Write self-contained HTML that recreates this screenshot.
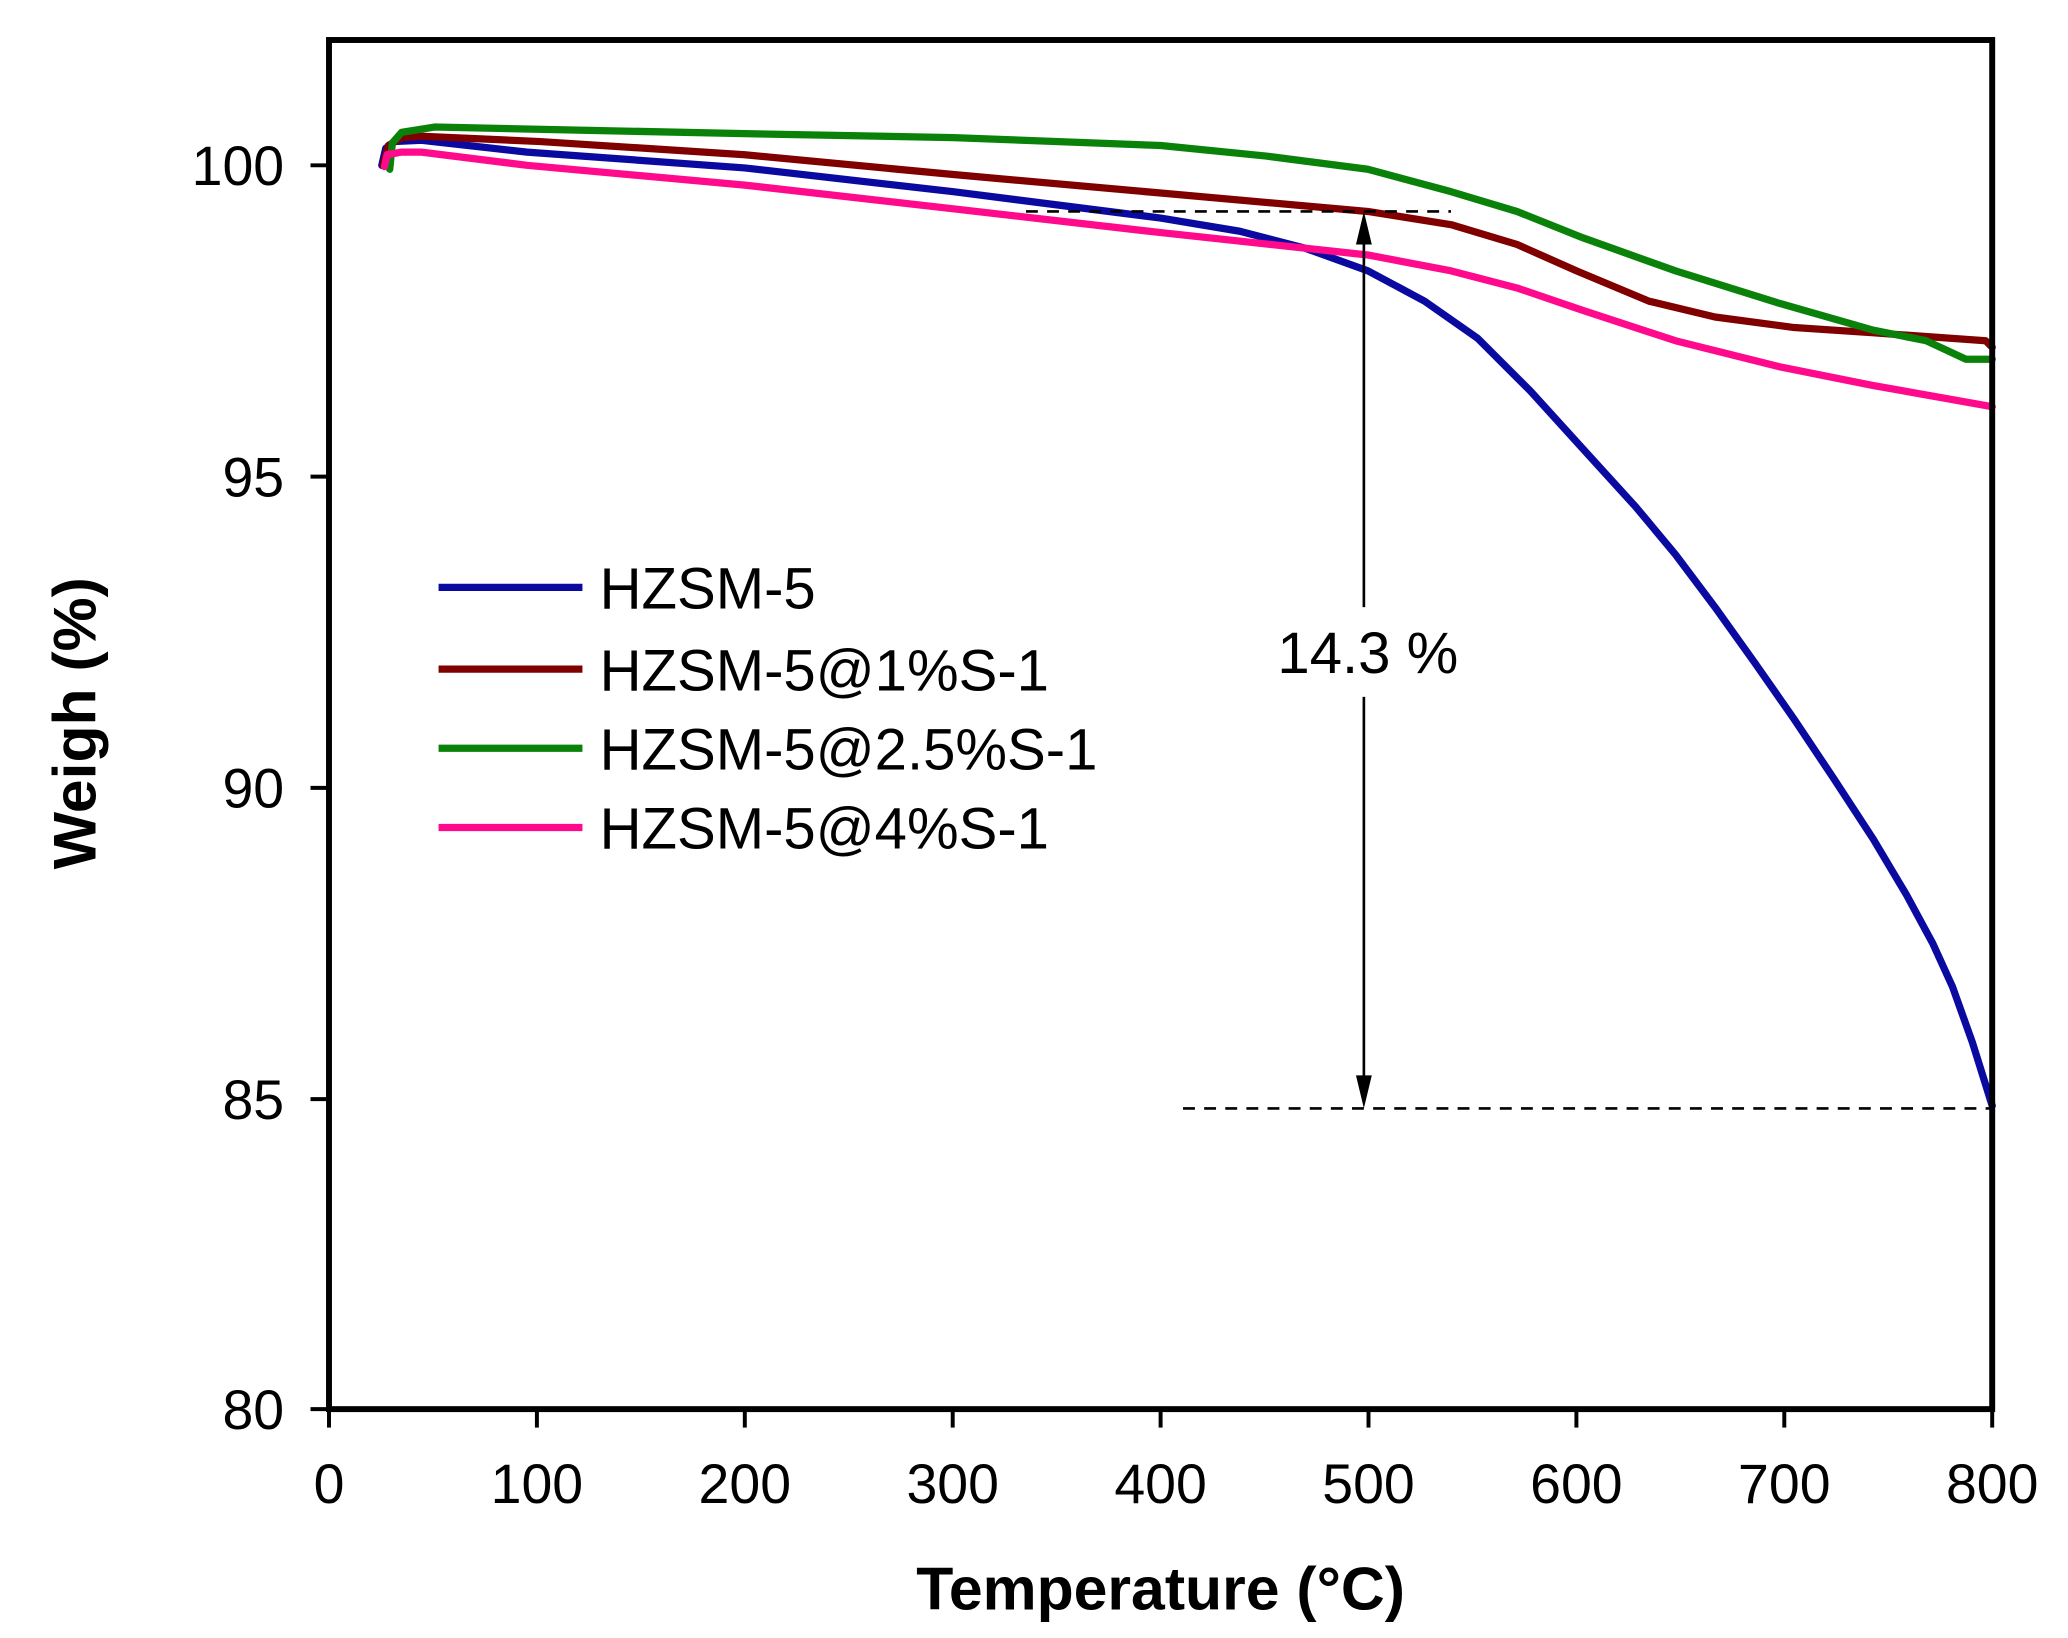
<!DOCTYPE html>
<html><head><meta charset="utf-8"><style>
html,body{margin:0;padding:0;background:#fff;}
svg{display:block;}
text{font-family:"Liberation Sans",sans-serif;}
</style></head><body>
<svg width="2068" height="1638" viewBox="0 0 2068 1638" xmlns="http://www.w3.org/2000/svg">
<g transform="translate(-1,0.43) scale(1.32,1.319)">
  <g fill="none" stroke-width="5.5" stroke-linejoin="round" stroke-linecap="round">
    <polyline stroke="#0a0aa0" points="290,125 293,112 300,107 320,106 400,115 565,127 723,145 880,165 940,175 990,188 1037,205 1080,228 1120,256 1160,296 1200,340 1240,384 1270,420 1300,460 1330,502 1360,545 1390,590 1420,636 1445,678 1465,715 1480,748 1495,790 1510,838"/>
    <polyline stroke="#800000" points="291,125 295,110 305,104 320,103 410,107 565,117 723,132 880,146 1037,160 1100,170 1150,185 1195,205 1250,228 1300,240 1360,248 1420,252 1505,258 1510,263"/>
    <polyline stroke="#0a820a" points="296,128 298,108 305,100 330,96 565,101 723,104 880,110 960,118 1037,128 1100,145 1150,160 1200,180 1270,205 1350,230 1420,250 1460,258 1490,272 1510,272"/>
    <polyline stroke="#ff0a8c" points="292,126 294,117 305,115 320,115 400,125 565,140 723,158 880,176 1037,193 1100,205 1150,218 1200,235 1270,258 1350,278 1420,292 1510,308"/>
  </g>
  <g stroke="#000" stroke-width="2" fill="none">
    <line x1="778" y1="160" x2="1100" y2="160" stroke-dasharray="9,7"/>
    <line x1="897" y1="840" x2="1510" y2="840" stroke-dasharray="9,7"/>
    <line x1="1034" y1="165" x2="1034" y2="460"/>
    <line x1="1034" y1="528" x2="1034" y2="835"/>
  </g>
  <polygon points="1034,160 1028,185 1040,185" fill="#000"/>
  <polygon points="1034,840 1028,815 1040,815" fill="#000"/>
  <text x="1037" y="510" font-size="44" text-anchor="middle">14.3 %</text>
  <rect x="250" y="30" width="1260" height="1038" fill="none" stroke="#000" stroke-width="4.5"/>
  <g stroke="#000" stroke-width="3">
    <line x1="250" y1="1068" x2="250" y2="1082"/><line x1="407.5" y1="1068" x2="407.5" y2="1082"/>
    <line x1="565" y1="1068" x2="565" y2="1082"/><line x1="722.5" y1="1068" x2="722.5" y2="1082"/>
    <line x1="880" y1="1068" x2="880" y2="1082"/><line x1="1037.5" y1="1068" x2="1037.5" y2="1082"/>
    <line x1="1195" y1="1068" x2="1195" y2="1082"/><line x1="1352.5" y1="1068" x2="1352.5" y2="1082"/>
    <line x1="1510" y1="1068" x2="1510" y2="1082"/>
    <line x1="236" y1="125" x2="250" y2="125"/><line x1="236" y1="361" x2="250" y2="361"/>
    <line x1="236" y1="597" x2="250" y2="597"/><line x1="236" y1="833" x2="250" y2="833"/>
    <line x1="236" y1="1068" x2="250" y2="1068"/>
  </g>
  <g font-size="42" text-anchor="middle">
    <text x="250" y="1139">0</text><text x="407.5" y="1139">100</text><text x="565" y="1139">200</text>
    <text x="722.5" y="1139">300</text><text x="880" y="1139">400</text><text x="1037.5" y="1139">500</text>
    <text x="1195" y="1139">600</text><text x="1352.5" y="1139">700</text><text x="1510" y="1139">800</text>
  </g>
  <g font-size="42" text-anchor="end">
    <text x="216" y="140">100</text><text x="216" y="376">95</text><text x="216" y="612">90</text>
    <text x="216" y="848">85</text><text x="216" y="1083">80</text>
  </g>
  <text x="880" y="1220" font-size="46" font-weight="bold" text-anchor="middle">Temperature (°C)</text>
  <text transform="translate(73,548) rotate(-90)" font-size="46" font-weight="bold" text-anchor="middle">Weigh (%)</text>
  <g stroke-width="5.5">
    <line x1="333" y1="445" x2="442" y2="445" stroke="#0a0aa0"/>
    <line x1="333" y1="507" x2="442" y2="507" stroke="#800000"/>
    <line x1="333" y1="567" x2="442" y2="567" stroke="#0a820a"/>
    <line x1="333" y1="627" x2="442" y2="627" stroke="#ff0a8c"/>
  </g>
  <g font-size="44">
    <text x="455" y="461">HZSM-5</text>
    <text x="455" y="523">HZSM-5@1%S-1</text>
    <text x="455" y="583">HZSM-5@2.5%S-1</text>
    <text x="455" y="643">HZSM-5@4%S-1</text>
  </g>
</g>
</svg>
</body></html>
